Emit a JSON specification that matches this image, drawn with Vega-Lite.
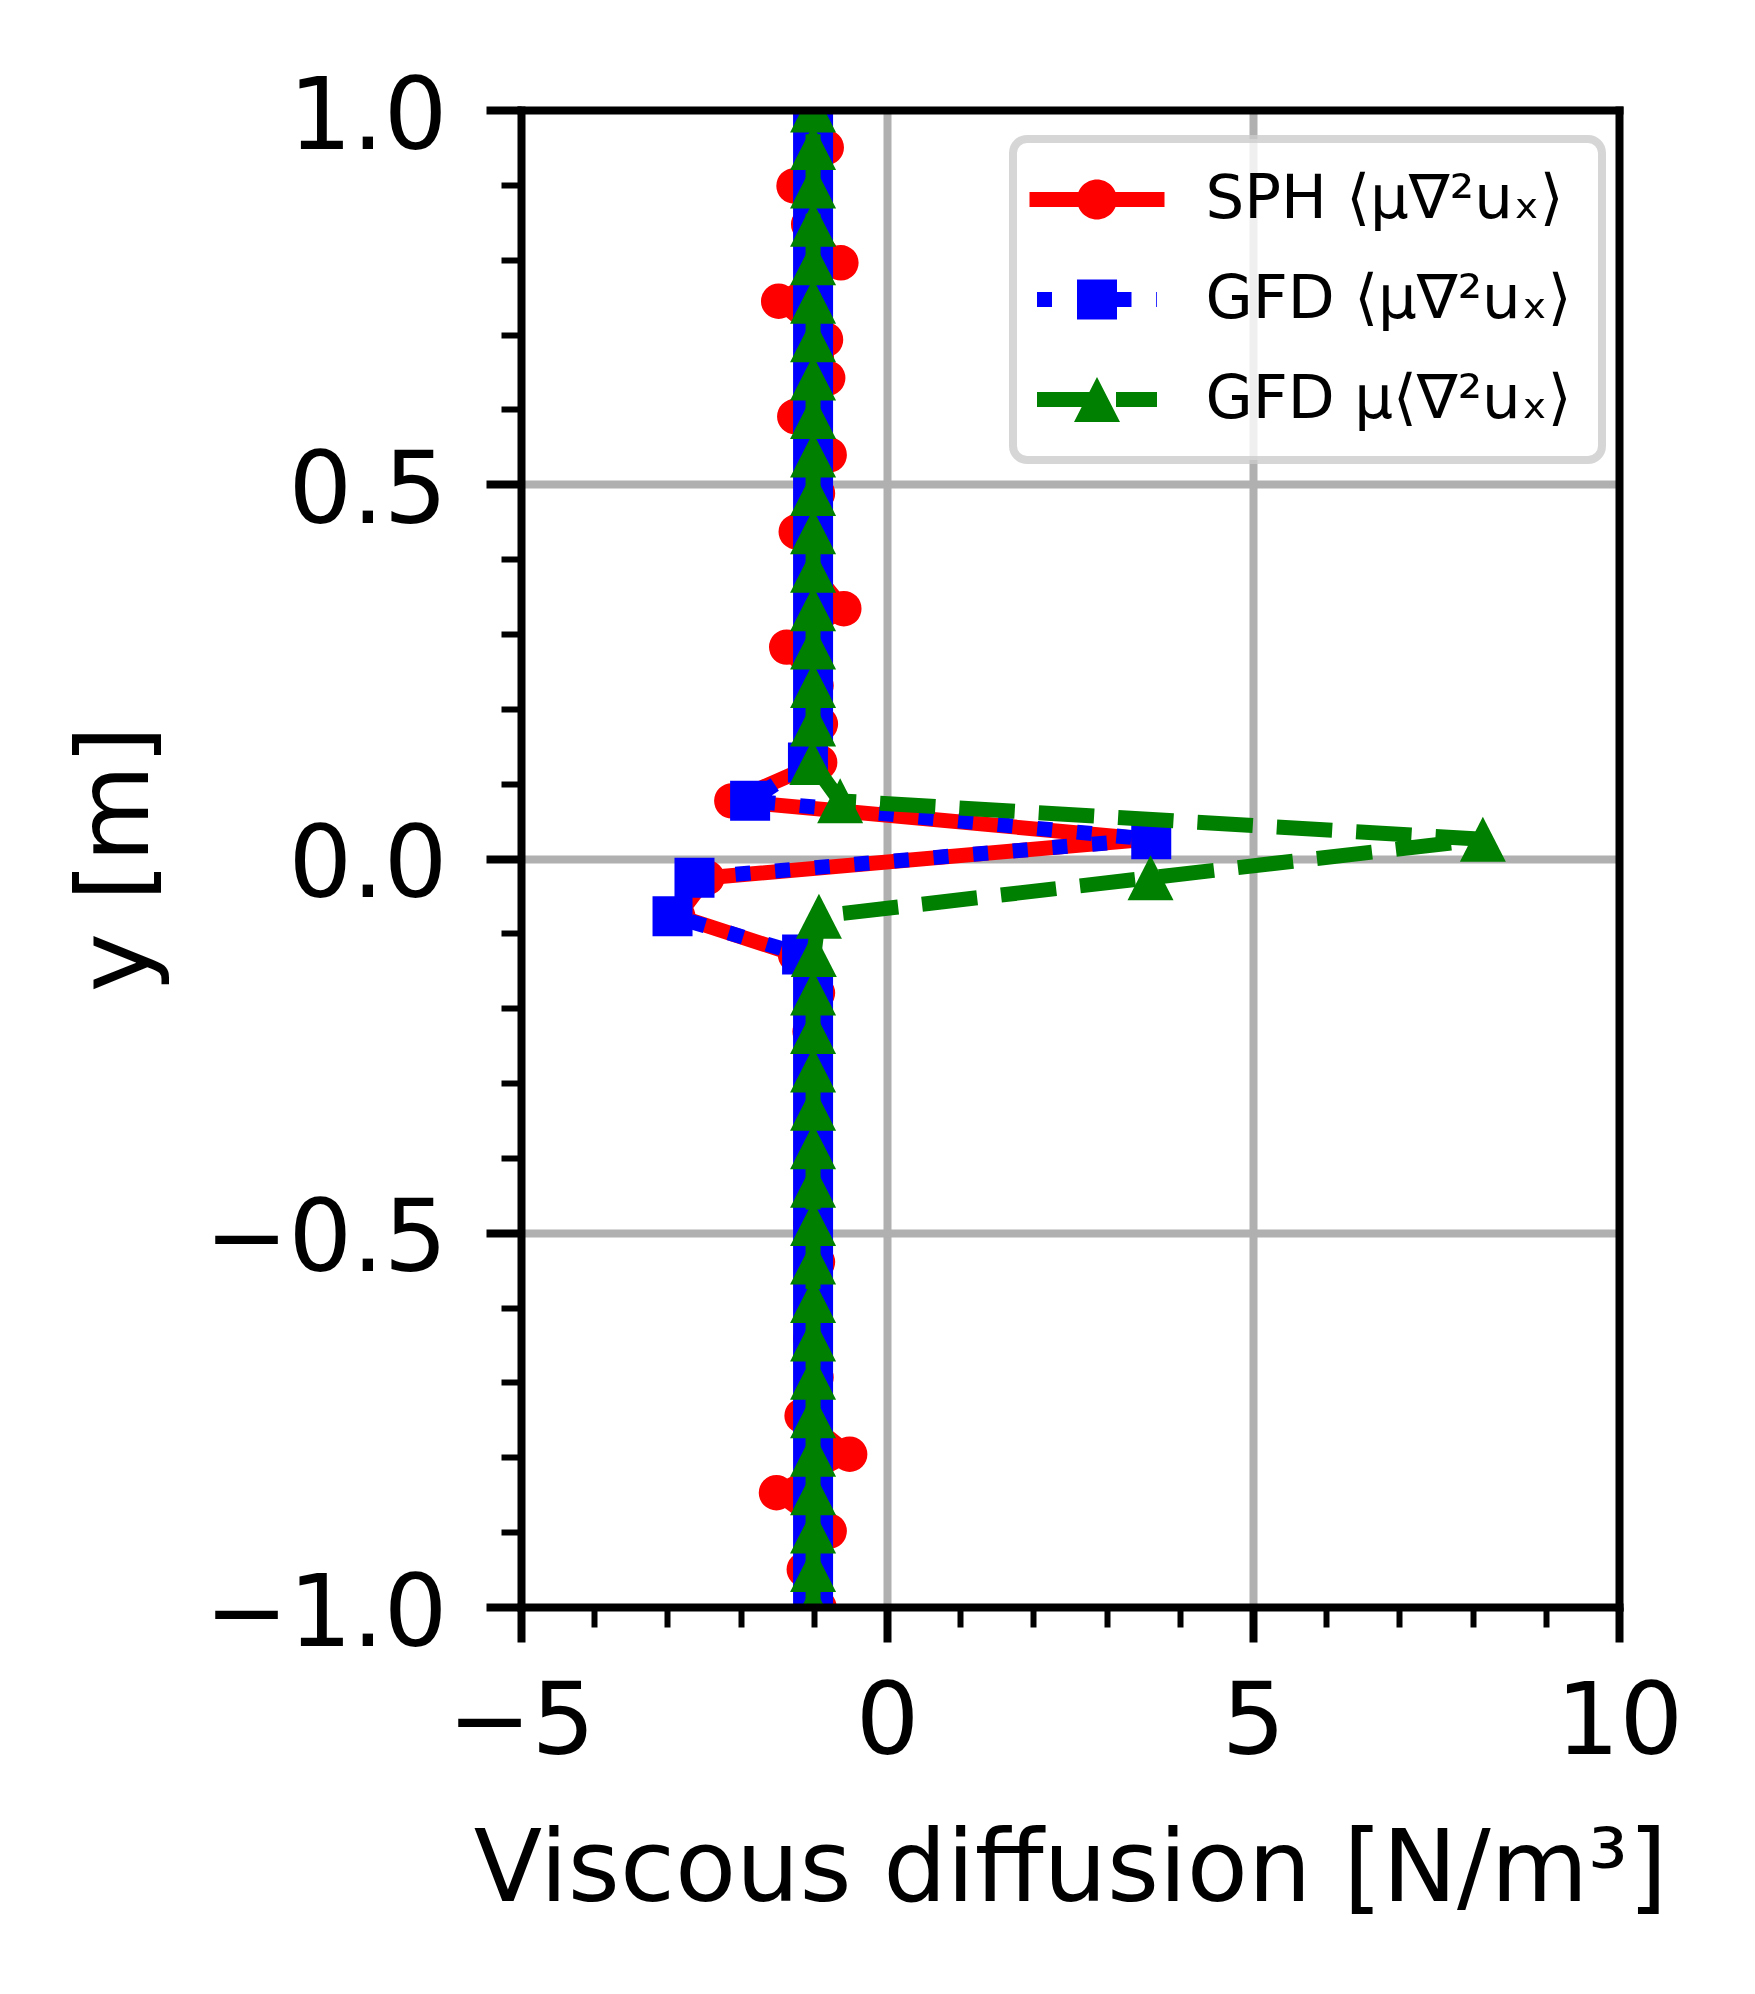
{
  "$schema": "https://vega.github.io/schema/vega-lite/v6.json",
  "width": 1098,
  "height": 1497,
  "autosize": {"type": "none"},
  "padding": {"left": 521, "top": 110, "right": 136, "bottom": 387},
  "background": "white",
  "config": {"view": {"stroke": null}},
  "data": {"values": [
    {"key":"sph","series":"SPH ⟨μ∇²uₓ⟩","y":1.0,"x":-1.05},
    {"key":"sph","series":"SPH ⟨μ∇²uₓ⟩","y":0.95,"x":-0.83},
    {"key":"sph","series":"SPH ⟨μ∇²uₓ⟩","y":0.8986,"x":-1.27},
    {"key":"sph","series":"SPH ⟨μ∇²uₓ⟩","y":0.8473,"x":-1.07},
    {"key":"sph","series":"SPH ⟨μ∇²uₓ⟩","y":0.7959,"x":-0.63},
    {"key":"sph","series":"SPH ⟨μ∇²uₓ⟩","y":0.7446,"x":-1.48},
    {"key":"sph","series":"SPH ⟨μ∇²uₓ⟩","y":0.6932,"x":-0.84},
    {"key":"sph","series":"SPH ⟨μ∇²uₓ⟩","y":0.6419,"x":-0.81},
    {"key":"sph","series":"SPH ⟨μ∇²uₓ⟩","y":0.5905,"x":-1.26},
    {"key":"sph","series":"SPH ⟨μ∇²uₓ⟩","y":0.5392,"x":-0.79},
    {"key":"sph","series":"SPH ⟨μ∇²uₓ⟩","y":0.4878,"x":-0.95},
    {"key":"sph","series":"SPH ⟨μ∇²uₓ⟩","y":0.4365,"x":-1.24},
    {"key":"sph","series":"SPH ⟨μ∇²uₓ⟩","y":0.3851,"x":-1.02},
    {"key":"sph","series":"SPH ⟨μ∇²uₓ⟩","y":0.3338,"x":-0.59},
    {"key":"sph","series":"SPH ⟨μ∇²uₓ⟩","y":0.2824,"x":-1.37},
    {"key":"sph","series":"SPH ⟨μ∇²uₓ⟩","y":0.2311,"x":-0.97},
    {"key":"sph","series":"SPH ⟨μ∇²uₓ⟩","y":0.1797,"x":-0.91},
    {"key":"sph","series":"SPH ⟨μ∇²uₓ⟩","y":0.1284,"x":-0.92},
    {"key":"sph","series":"SPH ⟨μ∇²uₓ⟩","y":0.077,"x":-2.12},
    {"key":"sph","series":"SPH ⟨μ∇²uₓ⟩","y":0.0257,"x":3.55},
    {"key":"sph","series":"SPH ⟨μ∇²uₓ⟩","y":-0.0257,"x":-2.46},
    {"key":"sph","series":"SPH ⟨μ∇²uₓ⟩","y":-0.077,"x":-2.86},
    {"key":"sph","series":"SPH ⟨μ∇²uₓ⟩","y":-0.1284,"x":-1.25},
    {"key":"sph","series":"SPH ⟨μ∇²uₓ⟩","y":-0.1797,"x":-0.95},
    {"key":"sph","series":"SPH ⟨μ∇²uₓ⟩","y":-0.2311,"x":-1.05},
    {"key":"sph","series":"SPH ⟨μ∇²uₓ⟩","y":-0.2824,"x":-0.99},
    {"key":"sph","series":"SPH ⟨μ∇²uₓ⟩","y":-0.3338,"x":-1.0},
    {"key":"sph","series":"SPH ⟨μ∇²uₓ⟩","y":-0.3851,"x":-0.98},
    {"key":"sph","series":"SPH ⟨μ∇²uₓ⟩","y":-0.4365,"x":-1.01},
    {"key":"sph","series":"SPH ⟨μ∇²uₓ⟩","y":-0.4878,"x":-1.04},
    {"key":"sph","series":"SPH ⟨μ∇²uₓ⟩","y":-0.5392,"x":-0.95},
    {"key":"sph","series":"SPH ⟨μ∇²uₓ⟩","y":-0.5905,"x":-1.0},
    {"key":"sph","series":"SPH ⟨μ∇²uₓ⟩","y":-0.6419,"x":-1.04},
    {"key":"sph","series":"SPH ⟨μ∇²uₓ⟩","y":-0.6932,"x":-0.97},
    {"key":"sph","series":"SPH ⟨μ∇²uₓ⟩","y":-0.7446,"x":-1.16},
    {"key":"sph","series":"SPH ⟨μ∇²uₓ⟩","y":-0.7959,"x":-0.51},
    {"key":"sph","series":"SPH ⟨μ∇²uₓ⟩","y":-0.8473,"x":-1.51},
    {"key":"sph","series":"SPH ⟨μ∇²uₓ⟩","y":-0.8986,"x":-0.79},
    {"key":"sph","series":"SPH ⟨μ∇²uₓ⟩","y":-0.95,"x":-1.13},
    {"key":"sph","series":"SPH ⟨μ∇²uₓ⟩","y":-1.0,"x":-0.93},

    {"key":"gfd","series":"GFD ⟨μ∇²uₓ⟩","y":1.0,"x":-1.01},
    {"key":"gfd","series":"GFD ⟨μ∇²uₓ⟩","y":0.95,"x":-1.01},
    {"key":"gfd","series":"GFD ⟨μ∇²uₓ⟩","y":0.8986,"x":-1.01},
    {"key":"gfd","series":"GFD ⟨μ∇²uₓ⟩","y":0.8473,"x":-1.01},
    {"key":"gfd","series":"GFD ⟨μ∇²uₓ⟩","y":0.7959,"x":-1.01},
    {"key":"gfd","series":"GFD ⟨μ∇²uₓ⟩","y":0.7446,"x":-1.01},
    {"key":"gfd","series":"GFD ⟨μ∇²uₓ⟩","y":0.6932,"x":-1.01},
    {"key":"gfd","series":"GFD ⟨μ∇²uₓ⟩","y":0.6419,"x":-1.01},
    {"key":"gfd","series":"GFD ⟨μ∇²uₓ⟩","y":0.5905,"x":-1.01},
    {"key":"gfd","series":"GFD ⟨μ∇²uₓ⟩","y":0.5392,"x":-1.01},
    {"key":"gfd","series":"GFD ⟨μ∇²uₓ⟩","y":0.4878,"x":-1.01},
    {"key":"gfd","series":"GFD ⟨μ∇²uₓ⟩","y":0.4365,"x":-1.01},
    {"key":"gfd","series":"GFD ⟨μ∇²uₓ⟩","y":0.3851,"x":-1.01},
    {"key":"gfd","series":"GFD ⟨μ∇²uₓ⟩","y":0.3338,"x":-1.01},
    {"key":"gfd","series":"GFD ⟨μ∇²uₓ⟩","y":0.2824,"x":-1.01},
    {"key":"gfd","series":"GFD ⟨μ∇²uₓ⟩","y":0.2311,"x":-1.01},
    {"key":"gfd","series":"GFD ⟨μ∇²uₓ⟩","y":0.1797,"x":-1.01},
    {"key":"gfd","series":"GFD ⟨μ∇²uₓ⟩","y":0.1284,"x":-1.08},
    {"key":"gfd","series":"GFD ⟨μ∇²uₓ⟩","y":0.077,"x":-1.87},
    {"key":"gfd","series":"GFD ⟨μ∇²uₓ⟩","y":0.0257,"x":3.61},
    {"key":"gfd","series":"GFD ⟨μ∇²uₓ⟩","y":-0.0257,"x":-2.63},
    {"key":"gfd","series":"GFD ⟨μ∇²uₓ⟩","y":-0.077,"x":-2.93},
    {"key":"gfd","series":"GFD ⟨μ∇²uₓ⟩","y":-0.1284,"x":-1.16},
    {"key":"gfd","series":"GFD ⟨μ∇²uₓ⟩","y":-0.1797,"x":-1.01},
    {"key":"gfd","series":"GFD ⟨μ∇²uₓ⟩","y":-0.2311,"x":-1.01},
    {"key":"gfd","series":"GFD ⟨μ∇²uₓ⟩","y":-0.2824,"x":-1.01},
    {"key":"gfd","series":"GFD ⟨μ∇²uₓ⟩","y":-0.3338,"x":-1.01},
    {"key":"gfd","series":"GFD ⟨μ∇²uₓ⟩","y":-0.3851,"x":-1.01},
    {"key":"gfd","series":"GFD ⟨μ∇²uₓ⟩","y":-0.4365,"x":-1.01},
    {"key":"gfd","series":"GFD ⟨μ∇²uₓ⟩","y":-0.4878,"x":-1.01},
    {"key":"gfd","series":"GFD ⟨μ∇²uₓ⟩","y":-0.5392,"x":-1.01},
    {"key":"gfd","series":"GFD ⟨μ∇²uₓ⟩","y":-0.5905,"x":-1.01},
    {"key":"gfd","series":"GFD ⟨μ∇²uₓ⟩","y":-0.6419,"x":-1.01},
    {"key":"gfd","series":"GFD ⟨μ∇²uₓ⟩","y":-0.6932,"x":-1.01},
    {"key":"gfd","series":"GFD ⟨μ∇²uₓ⟩","y":-0.7446,"x":-1.01},
    {"key":"gfd","series":"GFD ⟨μ∇²uₓ⟩","y":-0.7959,"x":-1.01},
    {"key":"gfd","series":"GFD ⟨μ∇²uₓ⟩","y":-0.8473,"x":-1.01},
    {"key":"gfd","series":"GFD ⟨μ∇²uₓ⟩","y":-0.8986,"x":-1.01},
    {"key":"gfd","series":"GFD ⟨μ∇²uₓ⟩","y":-0.95,"x":-1.01},
    {"key":"gfd","series":"GFD ⟨μ∇²uₓ⟩","y":-1.0,"x":-1.01},

    {"key":"gfdmu","series":"GFD μ⟨∇²uₓ⟩","y":1.0,"x":-1.01},
    {"key":"gfdmu","series":"GFD μ⟨∇²uₓ⟩","y":0.95,"x":-1.01},
    {"key":"gfdmu","series":"GFD μ⟨∇²uₓ⟩","y":0.8986,"x":-1.01},
    {"key":"gfdmu","series":"GFD μ⟨∇²uₓ⟩","y":0.8473,"x":-1.01},
    {"key":"gfdmu","series":"GFD μ⟨∇²uₓ⟩","y":0.7959,"x":-1.01},
    {"key":"gfdmu","series":"GFD μ⟨∇²uₓ⟩","y":0.7446,"x":-1.01},
    {"key":"gfdmu","series":"GFD μ⟨∇²uₓ⟩","y":0.6932,"x":-1.01},
    {"key":"gfdmu","series":"GFD μ⟨∇²uₓ⟩","y":0.6419,"x":-1.01},
    {"key":"gfdmu","series":"GFD μ⟨∇²uₓ⟩","y":0.5905,"x":-1.01},
    {"key":"gfdmu","series":"GFD μ⟨∇²uₓ⟩","y":0.5392,"x":-1.01},
    {"key":"gfdmu","series":"GFD μ⟨∇²uₓ⟩","y":0.4878,"x":-1.01},
    {"key":"gfdmu","series":"GFD μ⟨∇²uₓ⟩","y":0.4365,"x":-1.01},
    {"key":"gfdmu","series":"GFD μ⟨∇²uₓ⟩","y":0.3851,"x":-1.01},
    {"key":"gfdmu","series":"GFD μ⟨∇²uₓ⟩","y":0.3338,"x":-1.01},
    {"key":"gfdmu","series":"GFD μ⟨∇²uₓ⟩","y":0.2824,"x":-1.01},
    {"key":"gfdmu","series":"GFD μ⟨∇²uₓ⟩","y":0.2311,"x":-1.01},
    {"key":"gfdmu","series":"GFD μ⟨∇²uₓ⟩","y":0.1797,"x":-1.01},
    {"key":"gfdmu","series":"GFD μ⟨∇²uₓ⟩","y":0.1284,"x":-1.02},
    {"key":"gfdmu","series":"GFD μ⟨∇²uₓ⟩","y":0.077,"x":-0.64},
    {"key":"gfdmu","series":"GFD μ⟨∇²uₓ⟩","y":0.0257,"x":8.14},
    {"key":"gfdmu","series":"GFD μ⟨∇²uₓ⟩","y":-0.0257,"x":3.6},
    {"key":"gfdmu","series":"GFD μ⟨∇²uₓ⟩","y":-0.077,"x":-0.93},
    {"key":"gfdmu","series":"GFD μ⟨∇²uₓ⟩","y":-0.1284,"x":-1.0},
    {"key":"gfdmu","series":"GFD μ⟨∇²uₓ⟩","y":-0.1797,"x":-1.01},
    {"key":"gfdmu","series":"GFD μ⟨∇²uₓ⟩","y":-0.2311,"x":-1.01},
    {"key":"gfdmu","series":"GFD μ⟨∇²uₓ⟩","y":-0.2824,"x":-1.01},
    {"key":"gfdmu","series":"GFD μ⟨∇²uₓ⟩","y":-0.3338,"x":-1.01},
    {"key":"gfdmu","series":"GFD μ⟨∇²uₓ⟩","y":-0.3851,"x":-1.01},
    {"key":"gfdmu","series":"GFD μ⟨∇²uₓ⟩","y":-0.4365,"x":-1.01},
    {"key":"gfdmu","series":"GFD μ⟨∇²uₓ⟩","y":-0.4878,"x":-1.01},
    {"key":"gfdmu","series":"GFD μ⟨∇²uₓ⟩","y":-0.5392,"x":-1.01},
    {"key":"gfdmu","series":"GFD μ⟨∇²uₓ⟩","y":-0.5905,"x":-1.01},
    {"key":"gfdmu","series":"GFD μ⟨∇²uₓ⟩","y":-0.6419,"x":-1.01},
    {"key":"gfdmu","series":"GFD μ⟨∇²uₓ⟩","y":-0.6932,"x":-1.01},
    {"key":"gfdmu","series":"GFD μ⟨∇²uₓ⟩","y":-0.7446,"x":-1.01},
    {"key":"gfdmu","series":"GFD μ⟨∇²uₓ⟩","y":-0.7959,"x":-1.01},
    {"key":"gfdmu","series":"GFD μ⟨∇²uₓ⟩","y":-0.8473,"x":-1.01},
    {"key":"gfdmu","series":"GFD μ⟨∇²uₓ⟩","y":-0.8986,"x":-1.01},
    {"key":"gfdmu","series":"GFD μ⟨∇²uₓ⟩","y":-0.95,"x":-1.01},
    {"key":"gfdmu","series":"GFD μ⟨∇²uₓ⟩","y":-1.0,"x":-1.01}
  ]},
  "resolve": {"axis": {"x": "independent", "y": "independent"}},
  "layer": [
    {
      "transform": [{"filter": "datum.key === 'sph'"}],
      "mark": {"type": "line", "color": "#ff0000", "strokeWidth": 15, "strokeCap": "square", "strokeJoin": "round", "clip": true},
      "encoding": {
        "x": {"field": "x", "type": "quantitative", "scale": {"domain": [-5, 10], "nice": false, "zero": false},
              "axis": {"orient": "bottom", "values": [-5, 0, 5, 10], "grid": false, "tickSize": 35, "tickWidth": 8, "tickColor": "black",
                       "domain": true, "domainColor": "black", "domainWidth": 8, "domainCap": "square",
                       "labelFont": "DejaVu Sans", "labelFontSize": 100, "labelColor": "black", "labelPadding": 32, "labelLimit": 0,
                       "labelFlush": false, "labelOverlap": false, "labelBound": false,
                       "labelExpr": "replace(format(datum.value, 'd'), '-', '−')",
                       "title": "Viscous diffusion [N/m³]", "titleFont": "DejaVu Sans", "titleFontSize": 100, "titleFontWeight": "normal",
                       "titleColor": "black", "titleBaseline": "alphabetic", "titleAlign": "center", "titleAnchor": "middle", "titleX": 549, "titleY": 293, "titleLimit": 0, "zindex": 1}},
        "y": {"field": "y", "type": "quantitative", "scale": {"domain": [-1, 1], "nice": false, "zero": false},
              "axis": {"orient": "left", "values": [-1, -0.5, 0, 0.5, 1], "grid": false, "tickSize": 35, "tickWidth": 8, "tickColor": "black",
                       "domain": true, "domainColor": "black", "domainWidth": 8, "domainCap": "square",
                       "labelFont": "DejaVu Sans", "labelFontSize": 100, "labelColor": "black", "labelPadding": 39, "labelOffset": 8, "labelLimit": 0,
                       "labelBaseline": "middle", "labelAlign": "right",
                       "labelFlush": false, "labelOverlap": false, "labelBound": false,
                       "labelExpr": "replace(format(datum.value, '.1f'), '-', '−')",
                       "title": "y [m]", "titleFont": "DejaVu Sans", "titleFontSize": 100, "titleFontWeight": "normal",
                       "titleColor": "black", "titleAngle": 270, "titleBaseline": "alphabetic", "titleAlign": "center", "titleAnchor": "middle",
                       "titleX": -374, "titleY": 748.5, "titleLimit": 0, "zindex": 1}},
        "order": {"field": "y", "type": "quantitative"}
      }
    },
    {
      "transform": [{"filter": "datum.key === 'sph'"}],
      "mark": {"type": "point", "filled": true, "shape": "circle", "size": 1257, "opacity": 1, "strokeWidth": 0, "clip": true},
      "encoding": {
        "x": {"field": "x", "type": "quantitative", "scale": {"domain": [-5, 10], "nice": false, "zero": false},
              "axis": {"orient": "bottom", "values": [-4, -3, -2, -1, 1, 2, 3, 4, 6, 7, 8, 9], "grid": false, "tickSize": 20, "tickWidth": 6,
                       "tickColor": "black", "domain": false, "labels": false, "title": null, "zindex": 1}},
        "y": {"field": "y", "type": "quantitative", "scale": {"domain": [-1, 1], "nice": false, "zero": false},
              "axis": {"orient": "left", "values": [-0.9, -0.8, -0.7, -0.6, -0.4, -0.3, -0.2, -0.1, 0.1, 0.2, 0.3, 0.4, 0.6, 0.7, 0.8, 0.9],
                       "grid": false, "tickSize": 20, "tickWidth": 6, "tickColor": "black", "domain": false, "labels": false, "title": null, "zindex": 1}},
        "color": {"field": "series", "type": "nominal",
                  "scale": {"domain": ["SPH ⟨μ∇²uₓ⟩", "GFD ⟨μ∇²uₓ⟩", "GFD μ⟨∇²uₓ⟩"], "range": ["#ff0000", "#0000ff", "#008000"]},
                  "legend": {"orient": "none", "legendX": 492, "legendY": 29, "title": null,
                             "padding": 30, "rowPadding": 38, "symbolOffset": 23.5, "labelOffset": 78,
                             "symbolSize": 1600, "symbolStrokeWidth": 0, "symbolOpacity": 1,
                             "labelFont": "DejaVu Sans", "labelFontSize": 61, "labelColor": "black", "labelLimit": 0,
                             "fillColor": "rgba(255,255,255,0.8)", "strokeColor": "rgba(204,204,204,0.8)", "cornerRadius": 14,
                             "encode": {
                               "legend": {"update": {"strokeWidth": {"value": 8}}},
                               "symbols": {"update": {
                                 "shape": {"signal": "datum.index === 0 ? 'M-3.375,-0.375H3.375V0.375H-3.375ZM-1,0A1,1,0,1,1,1,0A1,1,0,1,1,-1,0Z' : datum.index === 1 ? 'M-3,-0.375H-2.25V0.375H-3ZM0.975,-0.375H1.725V0.375H0.975ZM2.96,-0.375H3V0.375H2.96ZM-1,-1H1V1H-1Z' : 'M-3,-0.375H-0.25V0.375H-3ZM0.95,-0.375H3V0.375H0.95ZM0,-1.125L1.15,1.125H-1.15Z'"},
                                 "fill": {"signal": "scale('color', datum.value)"},
                                 "strokeWidth": {"value": 0},
                                 "opacity": {"value": 1}
                               }}
                             }}}
      }
    },
    {
      "transform": [{"filter": "datum.key === 'gfd'"}],
      "mark": {"type": "line", "color": "#0000ff", "strokeWidth": 15, "strokeDash": [15, 24.75], "strokeCap": "butt", "strokeJoin": "round", "clip": true},
      "encoding": {
        "x": {"field": "x", "type": "quantitative", "scale": {"domain": [-5, 10], "nice": false, "zero": false},
              "axis": {"orient": "top", "domain": true, "domainColor": "black", "domainWidth": 8, "domainCap": "square",
                       "ticks": false, "labels": false, "grid": false, "title": null, "zindex": 1}},
        "y": {"field": "y", "type": "quantitative", "scale": {"domain": [-1, 1], "nice": false, "zero": false},
              "axis": {"orient": "right", "domain": true, "domainColor": "black", "domainWidth": 8, "domainCap": "square",
                       "ticks": false, "labels": false, "grid": false, "title": null, "zindex": 1}},
        "order": {"field": "y", "type": "quantitative"}
      }
    },
    {
      "transform": [{"filter": "datum.key === 'gfd'"}],
      "mark": {"type": "point", "filled": true, "shape": "square", "size": 1600, "opacity": 1, "strokeWidth": 0, "clip": true},
      "encoding": {
        "x": {"field": "x", "type": "quantitative", "scale": {"domain": [-5, 10], "nice": false, "zero": false},
              "axis": {"orient": "bottom", "values": [0, 5], "grid": true, "gridColor": "#b0b0b0", "gridWidth": 8, "gridOpacity": 1,
                       "domain": false, "ticks": false, "labels": false, "title": null, "zindex": 0}},
        "y": {"field": "y", "type": "quantitative", "scale": {"domain": [-1, 1], "nice": false, "zero": false},
              "axis": {"orient": "left", "values": [-0.5, 0, 0.5], "grid": true, "gridColor": "#b0b0b0", "gridWidth": 8, "gridOpacity": 1,
                       "domain": false, "ticks": false, "labels": false, "title": null, "zindex": 0}},
        "color": {"field": "series", "type": "nominal", "legend": null}
      }
    },
    {
      "transform": [{"filter": "datum.key === 'gfdmu'"}],
      "mark": {"type": "line", "color": "#008000", "strokeWidth": 15, "strokeDash": [55.5, 24], "strokeCap": "butt", "strokeJoin": "round", "clip": true},
      "encoding": {
        "x": {"field": "x", "type": "quantitative", "scale": {"domain": [-5, 10], "nice": false, "zero": false}, "axis": null},
        "y": {"field": "y", "type": "quantitative", "scale": {"domain": [-1, 1], "nice": false, "zero": false}, "axis": null},
        "order": {"field": "y", "type": "quantitative"}
      }
    },
    {
      "transform": [{"filter": "datum.key === 'gfdmu'"}],
      "mark": {"type": "point", "filled": true, "shape": "M0,-1.125L1.15,1.125L-1.15,1.125Z", "size": 1600, "opacity": 1, "strokeWidth": 0, "clip": true},
      "encoding": {
        "x": {"field": "x", "type": "quantitative", "scale": {"domain": [-5, 10], "nice": false, "zero": false}, "axis": null},
        "y": {"field": "y", "type": "quantitative", "scale": {"domain": [-1, 1], "nice": false, "zero": false}, "axis": null},
        "color": {"field": "series", "type": "nominal", "legend": null}
      }
    }
  ]
}
